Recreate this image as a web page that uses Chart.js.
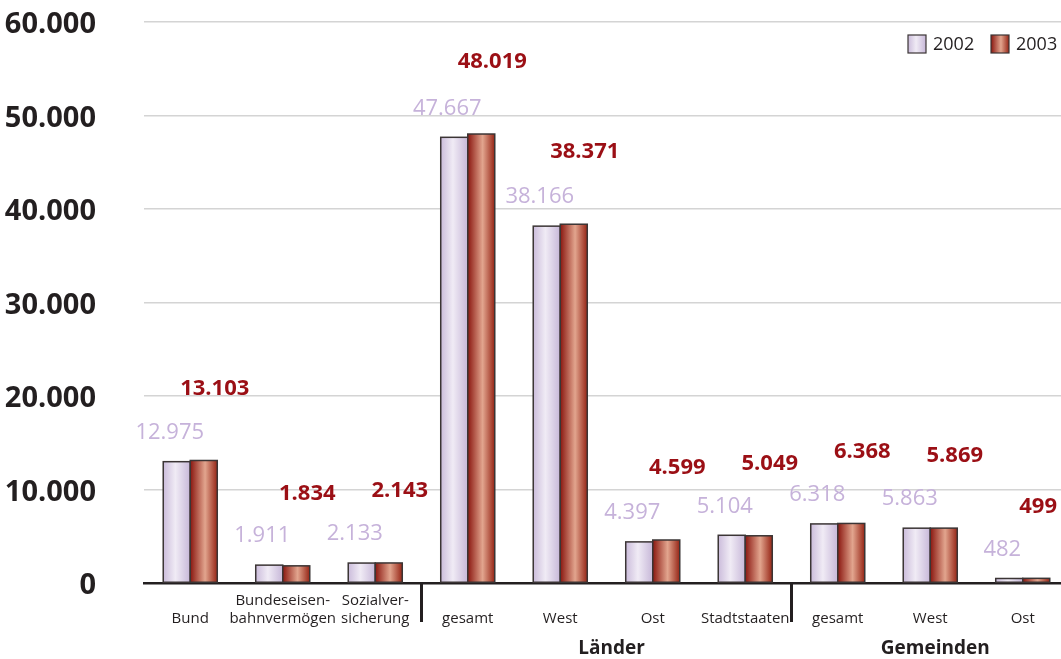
<!DOCTYPE html>
<html>
<head>
<meta charset="utf-8">
<script src="https://cdn.jsdelivr.net/npm/chart.js@4.4.0/dist/chart.umd.min.js"></script>
<style>
  html, body { margin: 0; padding: 0; background: #fff; overflow: hidden; }
  #wrap { width: 1070px; height: 659px; }
</style>
</head>
<body>
<div id="wrap"><canvas id="chart" width="1070" height="659"></canvas></div>
<script>
// categories (multi-line labels, single ones get an empty first line so they sit low)
var categories = [
    ['', 'Bund'],
    ['Bundeseisen-', 'bahnvermögen'],
    ['Sozialver-', 'sicherung'],
    ['', 'gesamt'],
    ['', 'West'],
    ['', 'Ost'],
    ['', 'Stadtstaaten'],
    ['', 'gesamt'],
    ['', 'West'],
    ['', 'Ost']
];
var values2002 = [12975, 1911, 2133, 47667, 38166, 4397, 5104, 6318, 5863, 482];
var values2003 = [13103, 1834, 2143, 48019, 38371, 4599, 5049, 6368, 5869, 499];
var seriesNames = ['2002', '2003'];
var groupNames = ['Länder', 'Gemeinden'];
var groupStart = [3, 7];
var groupEnd = [6, 9];
var yTicks = [0, 10000, 20000, 30000, 40000, 50000, 60000];

var FONT = "'Open Sans', 'DejaVu Sans', sans-serif";
var TEXT = '#231f20';
var VISIBLE_W = 1061;

function fmt(v) {
    return v.toString().replace(/\B(?=(\d{3})+(?!\d))/g, '.');
}

// horizontal gradient stops per series (edge, light centre, edge)
var gradStops = [
    [[0, '#cbbcdb'], [0.45, '#f0ebf5'], [1, '#c7b7d8']],
    [[0, '#8a1710'], [0.55, '#e2a58e'], [1, '#962516']]
];
var labelColors = ['#c6b2da', '#9b0f15'];

function barGradient(ctx, x0, x1, stops) {
    var g = ctx.createLinearGradient(x0, 0, x1, 0);
    stops.forEach(function (s) { g.addColorStop(s[0], s[1]); });
    return g;
}

var barPlugin = {
    id: 'gradBars',
    afterDatasetsDraw: function (chart) {
        var ctx = chart.ctx;
        ctx.save();
        chart.data.datasets.forEach(function (ds, di) {
            var meta = chart.getDatasetMeta(di);
            meta.data.forEach(function (el) {
                var p = el.getProps(['x', 'y', 'base', 'width'], true);
                var x0 = p.x - p.width / 2, x1 = p.x + p.width / 2;
                ctx.fillStyle = barGradient(ctx, x0, x1, gradStops[di]);
                ctx.fillRect(x0, p.y, p.width, p.base - p.y);
                ctx.lineWidth = 1.5;
                ctx.strokeStyle = '#3b3535';
                ctx.strokeRect(x0, p.y, p.width, p.base - p.y);
            });
        });
        // value labels
        ctx.textAlign = 'center';
        ctx.textBaseline = 'middle';
        chart.data.datasets.forEach(function (ds, di) {
            var meta = chart.getDatasetMeta(di);
            ctx.fillStyle = labelColors[di];
            ctx.font = (di === 1 ? 'bold ' : '') + '22px ' + FONT;
            meta.data.forEach(function (el, i) {
                var p = el.getProps(['x', 'y'], true);
                var txt = fmt(ds.data[i]);
                var half = ctx.measureText(txt).width / 2;
                var tx = di === 0 ? p.x - 7 : p.x + 11;
                tx = Math.min(tx, VISIBLE_W - 4 - half);
                ctx.fillText(txt, tx, di === 0 ? p.y - 29 : p.y - 72);
            });
        });
        ctx.restore();
    },
    afterDraw: function (chart) {
        var ctx = chart.ctx;
        var xs = chart.scales.x;
        var bottom = chart.chartArea.bottom;
        ctx.save();
        // group separators
        ctx.strokeStyle = TEXT;
        ctx.lineWidth = 3;
        groupStart.forEach(function (s) {
            var sx = (xs.getPixelForValue(s - 1) + xs.getPixelForValue(s)) / 2;
            ctx.beginPath();
            ctx.moveTo(sx, bottom);
            ctx.lineTo(sx, bottom + 39);
            ctx.stroke();
        });
        // group names
        ctx.fillStyle = TEXT;
        ctx.font = 'bold 19px ' + FONT;
        ctx.textAlign = 'center';
        ctx.textBaseline = 'middle';
        groupNames.forEach(function (g, k) {
            var cx = (xs.getPixelForValue(groupStart[k]) + xs.getPixelForValue(groupEnd[k])) / 2;
            ctx.fillText(g, cx + 5, bottom + 66);
        });
        // legend
        var lx = [908, 991];
        ctx.font = '18px ' + FONT;
        ctx.textAlign = 'left';
        seriesNames.forEach(function (n, k) {
            ctx.fillStyle = barGradient(ctx, lx[k], lx[k] + 18, gradStops[k]);
            ctx.fillRect(lx[k], 35, 18, 18);
            ctx.lineWidth = 1.2;
            ctx.strokeStyle = '#3b3535';
            ctx.strokeRect(lx[k], 35, 18, 18);
            ctx.fillStyle = TEXT;
            ctx.fillText(n, lx[k] + 25, 45);
        });
        ctx.restore();
    }
};

new Chart(document.getElementById('chart'), {
    type: 'bar',
    data: {
        labels: categories,
        datasets: [{
            label: seriesNames[0],
            data: values2002,
            backgroundColor: '#e4dcec',
            borderWidth: 0,
            barPercentage: 1,
            categoryPercentage: 0.584
        }, {
            label: seriesNames[1],
            data: values2003,
            backgroundColor: '#b85040',
            borderWidth: 0,
            barPercentage: 1,
            categoryPercentage: 0.584
        }]
    },
    options: {
        responsive: false,
        animation: false,
        layout: { padding: { top: 22, right: 1, left: 0, bottom: 0 } },
        plugins: { legend: { display: false }, tooltip: { enabled: false } },
        scales: {
            x: {
                grid: { display: false, drawTicks: false },
                border: { display: true, color: TEXT, width: 2.5 },
                ticks: {
                    color: TEXT,
                    font: { family: FONT, size: 15 },
                    padding: 9,
                    maxRotation: 0,
                    autoSkip: false
                },
                afterFit: function (s) {
                    s.height = 76;
                    s.paddingLeft = 0; s.paddingRight = 0;
                }
            },
            y: {
                min: 0,
                max: 60000,
                grid: { color: '#d4d4d4', lineWidth: 1.5, drawTicks: false },
                border: { display: false },
                afterBuildTicks: function (s) {
                    s.ticks = yTicks.map(function (v) { return { value: v }; });
                },
                ticks: {
                    color: TEXT,
                    font: { family: FONT, size: 29, weight: 'bold' },
                    padding: 48,
                    labelOffset: 3,
                    callback: function (v) { return fmt(v); }
                },
                afterFit: function (s) {
                    s.width = 144;
                    s.paddingTop = 0; s.paddingBottom = 0;
                }
            }
        }
    },
    plugins: [barPlugin]
});
</script>
</body>
</html>
